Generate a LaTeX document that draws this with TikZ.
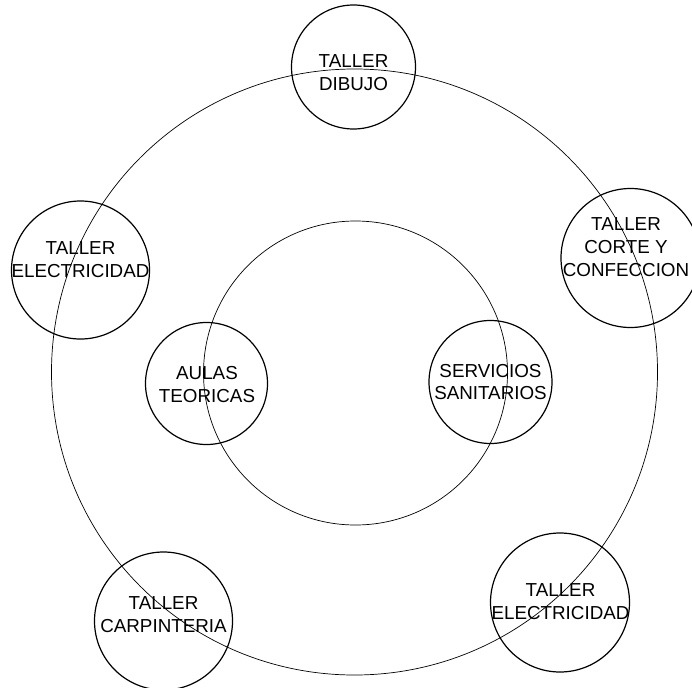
\documentclass[tikz,border=0pt]{standalone}
\usepackage{fontspec}
\setmainfont{Liberation Sans}
\usepackage{tikz}

\begin{document}
\begin{tikzpicture}[x = 1pt, y = -1pt, line width = 1.2pt,
    sala/.style = {draw, circle, inner sep = 0pt},
    texto/.style = {align = center, inner sep = 0pt, font = \fontsize{18.8}{23}\selectfont}]
\useasboundingbox (0,0) rectangle (692,687);

\draw[line width = 0.7pt] (354.5,372) circle[radius = 303];
\draw[line width = 0.7pt] (355.5,373) circle[radius = 152];

\draw
    (353.5,67) node[sala, minimum size = 124pt](a1){}
    (80.5,270) node[sala, minimum size = 138pt](a2){}
    (630.5,258) node[sala, minimum size = 139pt](a3){}
    (206.5,383.5) node[sala, minimum size = 122pt](a4){}
    (490.5,382) node[sala, minimum size = 123pt](a5){}
    (163.5,621) node[sala, minimum size = 138pt](a6){}
    (560,602.5) node[sala, minimum size = 139pt](a7){};

\draw
    (353.5,73) node[texto](t1){TALLER\\DIBUJO}
    (80.5,260) node[texto](t2){TALLER\\ELECTRICIDAD}
    (626,247.5) node[texto](t3){TALLER\\CORTE Y\\CONFECCION}
    (207,385) node[texto](t4){AULAS\\TEORICAS}
    (490.5,382) node[texto, font = \fontsize{18.8}{21.5}\selectfont](t5){SERVICIOS\\SANITARIOS}
    (163.5,615) node[texto](t6){TALLER\\CARPINTERIA}
    (560.5,601.5) node[texto](t7){TALLER\\ELECTRICIDAD};

\end{tikzpicture}
\end{document}
